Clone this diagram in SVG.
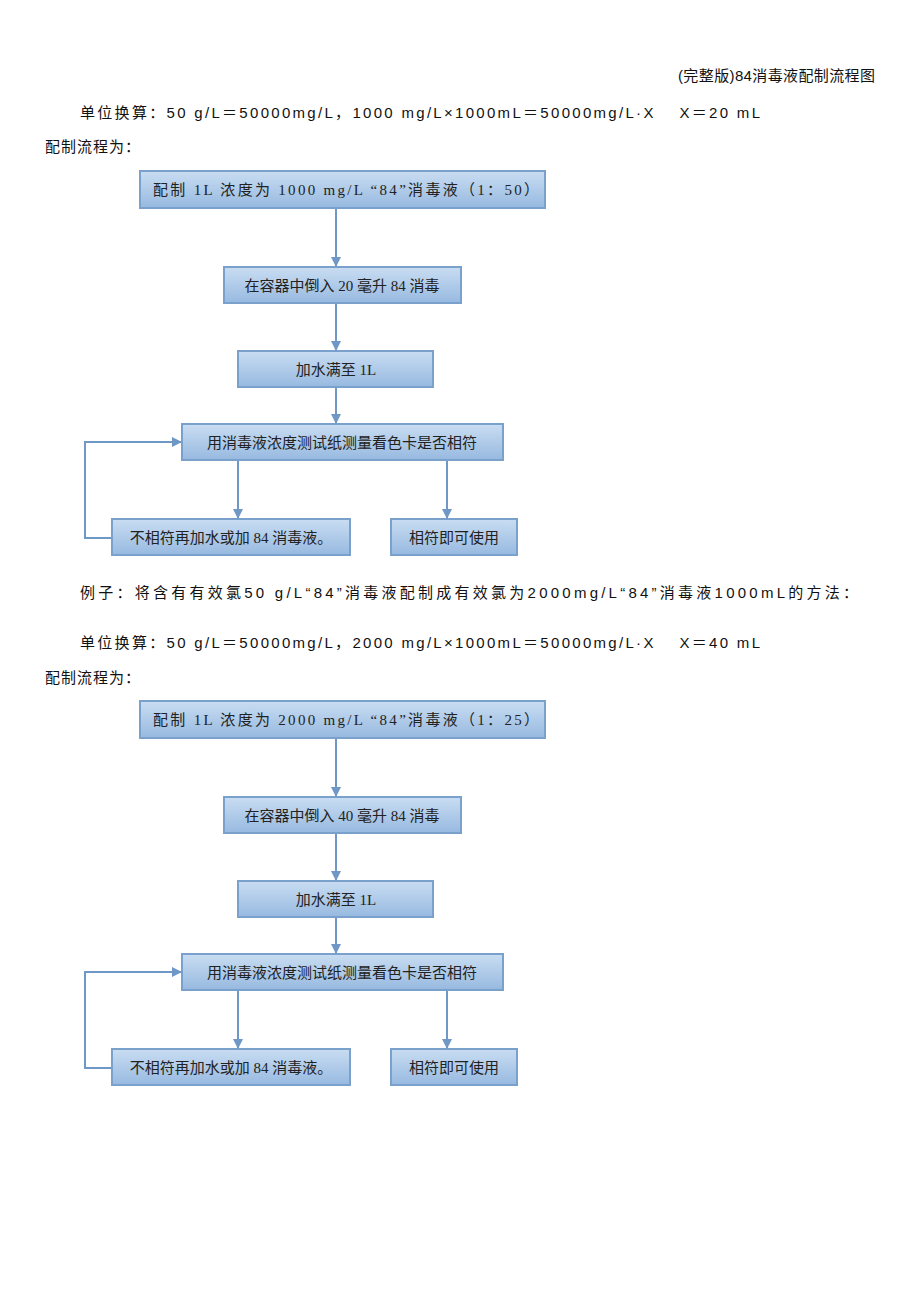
<svg xmlns="http://www.w3.org/2000/svg" width="920" height="1302" viewBox="0 0 920 1302">
<defs>
<linearGradient id="g" x1="0" y1="0" x2="0" y2="1"><stop offset="0" stop-color="#c9ddf2"/><stop offset="1" stop-color="#97b9e0"/></linearGradient>
<marker id="a" markerWidth="10" markerHeight="10" refX="9" refY="5" orient="auto" markerUnits="userSpaceOnUse"><path d="M0,0 L10,5 L0,10 z" fill="#6f98c6"/></marker>
</defs>
<style>
.b{fill:url(#g);stroke:#7aa0cc;stroke-width:2}
.t{font-family:"Liberation Serif","Noto Sans CJK SC",serif;font-size:15px;fill:#222;text-anchor:middle}
.p{font-family:"Liberation Sans","Noto Sans CJK SC",sans-serif;font-size:15px;fill:#111}
.c{fill:none;stroke:#6f98c6;stroke-width:2;marker-end:url(#a)}
</style>
<rect width="920" height="1302" fill="#fff"/>
<text class="p" x="678" y="81" font-size="14" textLength="197" lengthAdjust="spacing">(完整版)84消毒液配制流程图</text>
<text class="p" x="80" y="118" textLength="680" lengthAdjust="spacing">单位换算：50 g/L＝50000mg/L，1000 mg/L×1000mL＝50000mg/L·X　 X＝20 mL</text>
<text class="p" x="45" y="152" textLength="95" lengthAdjust="spacing">配制流程为：</text>
<text class="p" x="80" y="598" textLength="778" lengthAdjust="spacing">例子：将含有有效氯50 g/L“84”消毒液配制成有效氯为2000mg/L“84”消毒液1000mL的方法：</text>
<text class="p" x="80" y="648" textLength="680" lengthAdjust="spacing">单位换算：50 g/L＝50000mg/L，2000 mg/L×1000mL＝50000mg/L·X　 X＝40 mL</text>
<text class="p" x="45" y="683" textLength="95" lengthAdjust="spacing">配制流程为：</text>
<g id="flow1">
<g id="n1"><rect class="b" x="140" y="171" width="405" height="37"/><text class="t" x="346" y="195" textLength="386" lengthAdjust="spacing">配制 1L 浓度为 1000 mg/L “84”消毒液（1：50）</text></g>
<g id="n2"><rect class="b" x="224" y="267" width="237" height="36"/><text class="t" x="342" y="291">在容器中倒入 20 毫升 84 消毒</text></g>
<g id="n3"><rect class="b" x="238" y="351" width="195" height="36"/><text class="t" x="336" y="375">加水满至 1L</text></g>
<g id="n4"><rect class="b" x="182" y="424" width="321" height="36"/><text class="t" x="342" y="448">用消毒液浓度测试纸测量看色卡是否相符</text></g>
<g id="n5"><rect class="b" x="112" y="519" width="238" height="36"/><text class="t" x="231" y="543">不相符再加水或加 84 消毒液。</text></g>
<g id="n6"><rect class="b" x="391" y="519" width="126" height="36"/><text class="t" x="454" y="543">相符即可使用</text></g>
</g>
<g id="flow2">
<g id="m1"><rect class="b" x="140" y="701" width="405" height="37"/><text class="t" x="346" y="725" textLength="386" lengthAdjust="spacing">配制 1L 浓度为 2000 mg/L “84”消毒液（1：25）</text></g>
<g id="m2"><rect class="b" x="224" y="797" width="237" height="36"/><text class="t" x="342" y="821">在容器中倒入 40 毫升 84 消毒</text></g>
<g id="m3"><rect class="b" x="238" y="881" width="195" height="36"/><text class="t" x="336" y="905">加水满至 1L</text></g>
<g id="m4"><rect class="b" x="182" y="954" width="321" height="36"/><text class="t" x="342" y="978">用消毒液浓度测试纸测量看色卡是否相符</text></g>
<g id="m5"><rect class="b" x="112" y="1049" width="238" height="36"/><text class="t" x="231" y="1073">不相符再加水或加 84 消毒液。</text></g>
<g id="m6"><rect class="b" x="391" y="1049" width="126" height="36"/><text class="t" x="454" y="1073">相符即可使用</text></g>
</g>
<g id="connectors">
<path class="c" d="M336,209 V266"/>
<path class="c" d="M336,304 V350"/>
<path class="c" d="M336,388 V423"/>
<path class="c" d="M238,461 V518"/>
<path class="c" d="M447,461 V518"/>
<path class="c" d="M111,538 H85 V442 H181"/>
<path class="c" d="M336,739 V796"/>
<path class="c" d="M336,834 V880"/>
<path class="c" d="M336,918 V953"/>
<path class="c" d="M238,991 V1048"/>
<path class="c" d="M447,991 V1048"/>
<path class="c" d="M111,1068 H85 V972 H181"/>
</g>
</svg>
